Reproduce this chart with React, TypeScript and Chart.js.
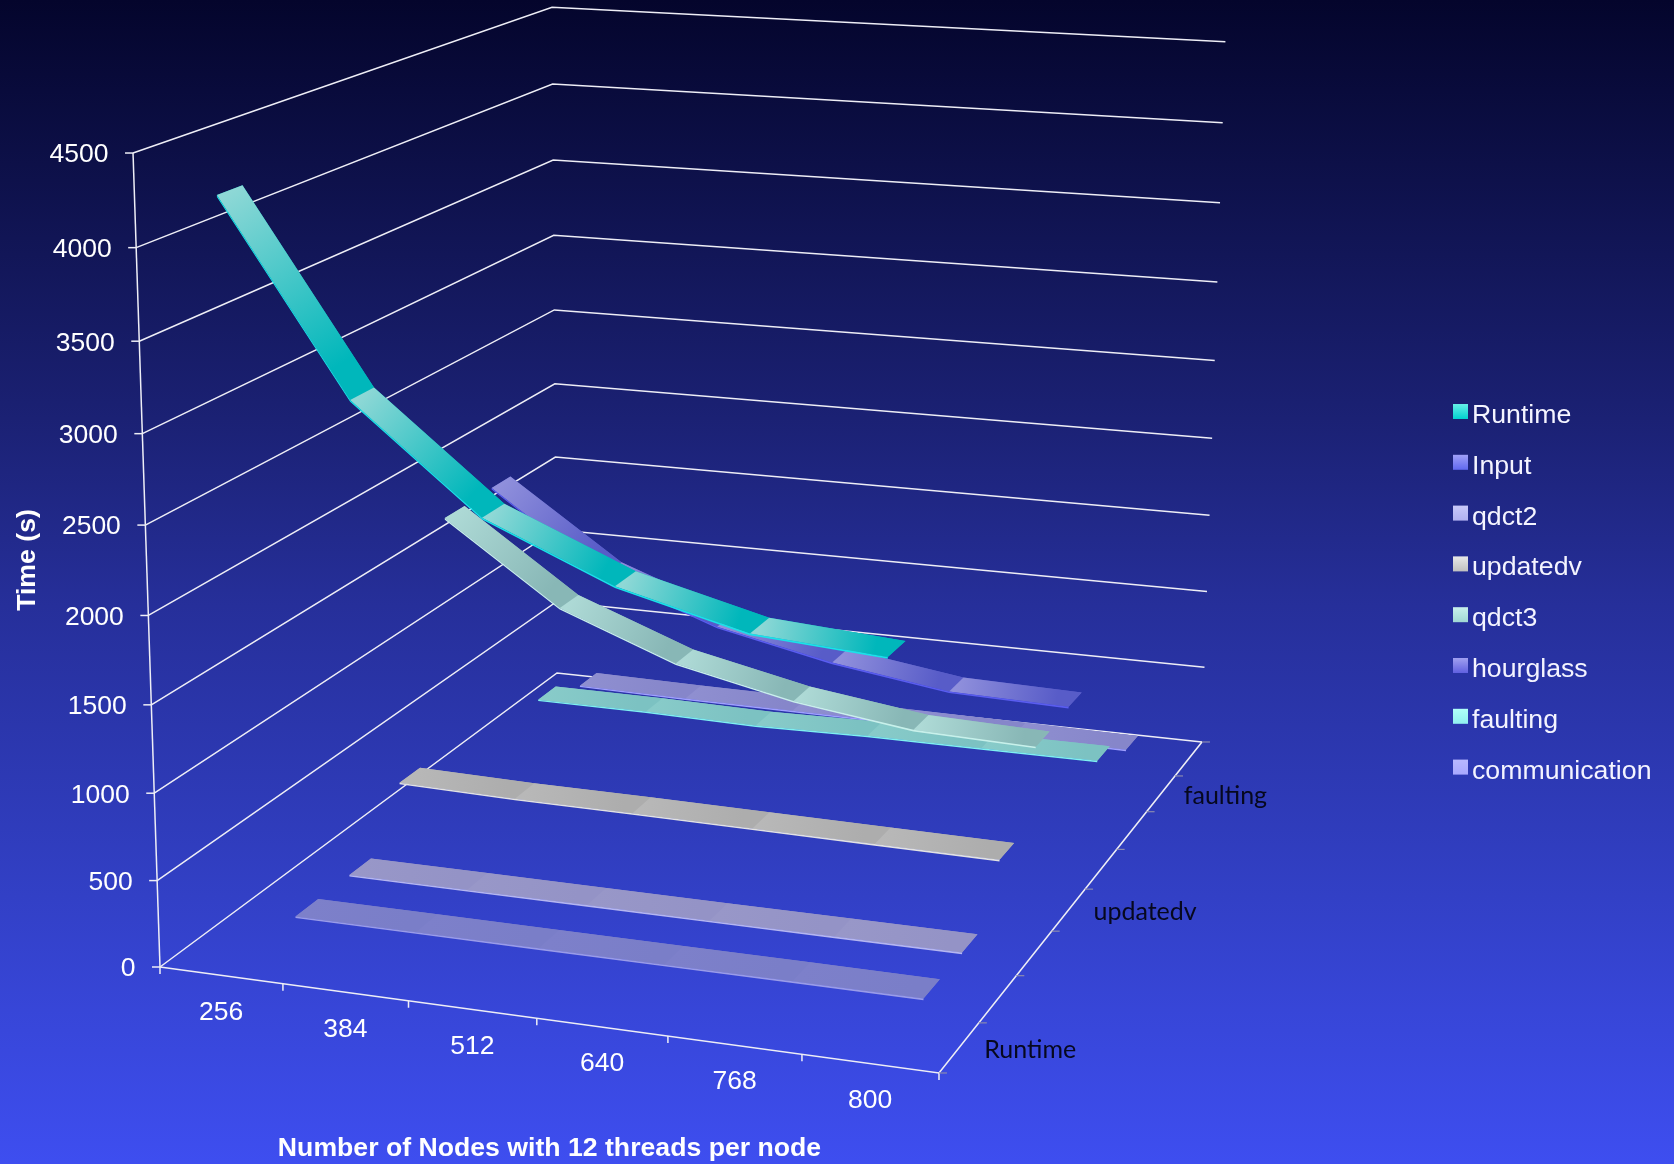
import React, { useEffect, useRef } from "react";
import { Chart, registerables } from "chart.js";

Chart.register(...registerables);

const WIDTH = 1674;
const HEIGHT = 1164;

// Chart values
const nodeCounts = ["256", "384", "512", "640", "768", "800"];
const seriesNames = ["Runtime", "Input", "qdct2", "updatedv", "qdct3", "hourglass", "faulting", "communication"];
const depthLabels = ["Runtime", "updatedv", "faulting"];
const depthLabelSlots = [0, 3, 6];
const depthLabelOffsets = [71, 76.5, 64.5];
const timeTicks = [0, 500, 1000, 1500, 2000, 2500, 3000, 3500, 4000, 4500];

const runtime = [4260, 3220, 2650, 2350, 2170, 2120];
const input = [6, 6, 5, 5, 5, 4];
const qdct2 = [7, 6, 6, 5, 5, 5];
const updatedv = [340, 325, 322, 315, 308, 302];
const qdct3 = [1785, 1295, 1025, 870, 772, 750];
const hourglass = [1795, 1310, 1050, 898, 793, 776];
const faulting = [213, 212, 200, 212, 212, 214];
const communication = [95, 85, 80, 75, 68, 60];
const seriesValues = [runtime, input, qdct2, updatedv, qdct3, hourglass, faulting, communication];

// Ribbon gradient start, gradient end, front face highlight
const ribbonColors = [
  ["#8fd8d6", "#00b7bb", "#19e3e8"],
  ["#7d80ca", "#7a7ec8", "#9a9ce8"],
  ["#9897c8", "#9493c6", "#b5b6f0"],
  ["#b8b8b8", "#adadad", "#e2e2e2"],
  ["#aedad6", "#88b7b6", "#c8f0ea"],
  ["#9090dc", "#585cc8", "#5a5df0"],
  ["#88cbc9", "#7cc2c2", "#7ff0f0"],
  ["#8f8fd0", "#8686ca", "#a0a0ff"],
];
const legendColors = [
  ["#66efe8", "#00d0d0"],
  ["#a0a0f8", "#6068f0"],
  ["#c8c8f8", "#b0b0f0"],
  ["#e8e8e8", "#c0c0c0"],
  ["#c8f0ec", "#a0d8d4"],
  ["#a0a0f0", "#6060e0"],
  ["#b0fff8", "#90f0f0"],
  ["#b8b8ff", "#a8a8ff"],
];

const TIME_MAX = 4500;
const RIBBON_HALF_DEPTH = 0.026;
const RIBBON_THICKNESS = 0.0022;
const GRID_COLOR = "#eeeef6";
const DEPTH_TICK_COLOR = "#8a8ab0";
const SANS = '"Liberation Sans", Arial, sans-serif';

type Pt = { x: number; y: number };

// Perspective camera: u runs along the node axis, v into the depth, w up the time axis (each 0..1)
function project(u: number, v: number, w: number): Pt {
  const d = 1 - 0.0631 * u + 0.2335 * v - 0.0498 * w;
  return {
    x: (160 + 719.74 * u + 527.05 * v - 33.6 * w) / d,
    y: (967 + 38.28 * u - 136.86 * v - 821.6 * w) / d,
  };
}

const uOf = (j: number) => (j + 0.5) / nodeCounts.length;
const vOf = (s: number) => (s + 0.5) / seriesNames.length;
const wOf = (t: number) => t / TIME_MAX;

function lineDataset(points: Pt[], color: string, width: number) {
  return { data: points, showLine: true, borderColor: color, borderWidth: width, pointRadius: 0, fill: false, clip: false };
}

function polygonDataset(points: Pt[], background: any) {
  return { data: points, showLine: true, borderWidth: 0, pointRadius: 0, clip: false, fill: "shape", backgroundColor: background };
}

function buildDatasets() {
  const sets: any[] = [];

  // Walls and floor edge
  timeTicks.forEach((t) => {
    const w = wOf(t);
    sets.push(lineDataset([project(0, 0, w), project(0, 1, w), project(1, 1, w)], GRID_COLOR, 1.5));
    const p = project(0, 0, w);
    sets.push(lineDataset([p, { x: p.x - 8, y: p.y }], GRID_COLOR, 1.5));
  });

  // Axis lines and tick marks
  sets.push(lineDataset([project(0, 0, 0), project(0, 0, 1)], GRID_COLOR, 1.5));
  sets.push(lineDataset([project(0, 0, 0), project(1, 0, 0), project(1, 1, 0)], GRID_COLOR, 1.6));
  for (let k = 0; k <= nodeCounts.length; k++) {
    const p = project(k / nodeCounts.length, 0, 0);
    sets.push(lineDataset([p, { x: p.x, y: p.y + 7 }], GRID_COLOR, 1.5));
  }
  for (let k = 0; k <= seriesNames.length; k++) {
    const p = project(1, k / seriesNames.length, 0);
    sets.push(lineDataset([p, { x: p.x + 8, y: p.y }], DEPTH_TICK_COLOR, 1.2));
  }

  // Ribbons, from the back of the depth axis to the front
  for (let s = seriesNames.length - 1; s >= 0; s--) {
    const values = seriesValues[s];
    const [from, to, edge] = ribbonColors[s];
    const front = vOf(s) - RIBBON_HALF_DEPTH;
    const rear = vOf(s) + RIBBON_HALF_DEPTH;
    const top = (t: number) => wOf(t) + RIBBON_THICKNESS / 2;
    const bottom = (t: number) => wOf(t) - RIBBON_THICKNESS / 2;

    // Solid underlay so the joints between sections stay closed
    sets.push(
      polygonDataset(
        [
          ...values.map((t, j) => project(uOf(j), front, top(t))),
          ...values.map((t, j) => project(uOf(j), rear, top(t))).reverse(),
        ],
        to,
      ),
    );

    for (let j = 0; j < values.length - 1; j++) {
      const a = { u: uOf(j), w: top(values[j]) };
      const b = { u: uOf(j + 1), w: top(values[j + 1]) };
      const start = project(a.u, vOf(s), a.w);
      const end = project(b.u, vOf(s), b.w);
      sets.push(
        polygonDataset(
          [project(a.u, front, a.w), project(a.u, rear, a.w), project(b.u, rear, b.w), project(b.u, front, b.w)],
          (ctx: any) => {
            const { x, y } = ctx.chart.scales;
            const x0 = x.getPixelForValue(start.x);
            const y0 = y.getPixelForValue(start.y);
            const x1 = x.getPixelForValue(end.x);
            const y1 = y.getPixelForValue(end.y);
            // The scales have no pixel range until the first layout has run
            if (![x0, y0, x1, y1].every(Number.isFinite)) return from;
            const g = ctx.chart.ctx.createLinearGradient(x0, y0, x1, y1);
            g.addColorStop(0, from);
            g.addColorStop(0.85, to);
            g.addColorStop(1, to);
            return g;
          },
        ),
      );
    }

    // Front face of the ribbon
    sets.push(
      polygonDataset(
        [
          ...values.map((t, j) => project(uOf(j), front, top(t))),
          ...values.map((t, j) => project(uOf(j), front, bottom(t))).reverse(),
        ],
        edge,
      ),
    );
  }

  // Later entries paint on top
  sets.forEach((d, i) => {
    d.order = -i;
  });
  return sets;
}

const backdrop = {
  id: "backdrop",
  beforeDraw(chart: any) {
    const { ctx } = chart;
    const g = ctx.createLinearGradient(0, 0, 0, HEIGHT);
    g.addColorStop(0, "#04052c");
    g.addColorStop(0.36, "#1b2174");
    g.addColorStop(0.52, "#262f9a");
    g.addColorStop(0.77, "#3240c6");
    g.addColorStop(1, "#3e4ef0");
    ctx.save();
    ctx.fillStyle = g;
    ctx.fillRect(0, 0, WIDTH, HEIGHT);
    ctx.restore();
  },
};

const annotations = {
  id: "annotations",
  afterDatasetsDraw(chart: any) {
    const { ctx, scales } = chart;
    const px = (p: Pt) => ({ x: scales.x.getPixelForValue(p.x), y: scales.y.getPixelForValue(p.y) });
    ctx.save();

    // Time axis labels
    ctx.fillStyle = "#ffffff";
    ctx.font = `26.5px ${SANS}`;
    ctx.textAlign = "right";
    ctx.textBaseline = "middle";
    timeTicks.forEach((t) => {
      const p = px(project(0, 0, wOf(t)));
      ctx.fillText(String(t), p.x - 24.5, p.y + 2);
    });

    // Node axis labels
    ctx.textAlign = "center";
    nodeCounts.forEach((n, j) => {
      const p = px(project(uOf(j), 0, 0));
      ctx.fillText(n, p.x, p.y + 37);
    });

    // Depth axis labels
    ctx.fillStyle = "#06081e";
    ctx.font = "25px Lato, sans-serif";
    depthLabels.forEach((name, i) => {
      const p = px(project(1, vOf(depthLabelSlots[i]), 0));
      ctx.fillText(name, p.x + depthLabelOffsets[i], p.y + 2.5);
    });

    // Axis titles
    ctx.fillStyle = "#ffffff";
    ctx.font = `bold 26.65px ${SANS}`;
    ctx.fillText("Number of Nodes with 12 threads per node", 549.5, 1149);
    ctx.save();
    ctx.translate(28, 560);
    ctx.rotate(-Math.PI / 2);
    ctx.fillText("Time (s)", 0, 0);
    ctx.restore();

    // Legend
    ctx.font = `26.7px ${SANS}`;
    ctx.textAlign = "left";
    ctx.textBaseline = "alphabetic";
    seriesNames.forEach((name, i) => {
      const boxTop = 404 + i * 50.8;
      const g = ctx.createLinearGradient(0, boxTop, 0, boxTop + 15);
      g.addColorStop(0, legendColors[i][0]);
      g.addColorStop(1, legendColors[i][1]);
      ctx.fillStyle = g;
      ctx.fillRect(1453, boxTop, 15, 15);
      ctx.fillStyle = "#f4f4ff";
      ctx.fillText(name, 1472, boxTop + 19);
    });
    ctx.restore();
  },
};

export default function App() {
  const canvasRef = useRef<HTMLCanvasElement | null>(null);

  useEffect(() => {
    document.body.style.margin = "0";
    const chart = new Chart(canvasRef.current as HTMLCanvasElement, {
      type: "scatter",
      data: { datasets: buildDatasets() },
      plugins: [backdrop, annotations],
      options: {
        animation: false,
        responsive: false,
        events: [],
        layout: { padding: 0 },
        plugins: { legend: { display: false }, tooltip: { enabled: false } },
        scales: {
          x: { type: "linear", display: false, min: 0, max: WIDTH },
          y: { type: "linear", display: false, min: 0, max: HEIGHT, reverse: true },
        },
      },
    });
    return () => chart.destroy();
  }, []);

  return <canvas ref={canvasRef} width={WIDTH} height={HEIGHT} style={{ display: "block" }} />;
}
